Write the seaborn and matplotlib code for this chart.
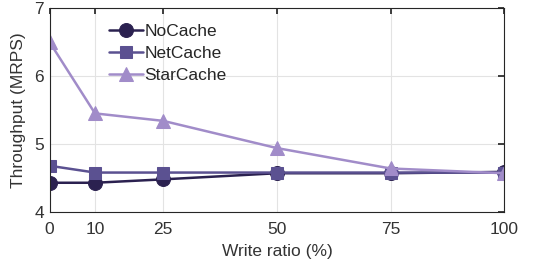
import matplotlib
matplotlib.use("Agg")
import matplotlib.pyplot as plt
import seaborn as sns
import pandas as pd

write_ratio = [0, 10, 25, 50, 75, 100]
nocache = [4.43, 4.43, 4.48, 4.57, 4.57, 4.59]
netcache = [4.68, 4.58, 4.58, 4.58, 4.58, 4.58]
starcache = [6.50, 5.45, 5.34, 4.94, 4.64, 4.57]
series_names = ["NoCache", "NetCache", "StarCache"]
colors = ["#2b2150", "#5b5191", "#a18cc9"]
markers = ["o", "s", "^"]

sns.set_theme(style="white")
plt.rcParams['font.family'] = ['Liberation Sans', 'DejaVu Sans']

df = pd.DataFrame({
    "x": write_ratio * 3,
    "y": nocache + netcache + starcache,
    "series": sum([[n] * len(write_ratio) for n in series_names], []),
})

fig, ax = plt.subplots(figsize=(5.44, 2.66), dpi=100)
fig.subplots_adjust(left=0.091, right=0.927, top=0.97, bottom=0.203)

for name, c, m in zip(series_names, colors, markers):
    sub = df[df.series == name]
    sns.lineplot(data=sub, x="x", y="y", ax=ax, color=c, marker=m,
                 markersize=10 if m != "s" else 9, linewidth=1.8,
                 markeredgecolor=c, label=name)

ax.set_xlim(0, 100)
ax.set_ylim(4, 7)
ax.set_xticks(write_ratio)
ax.set_yticks([4, 5, 6, 7])
ax.set_xlabel("Write ratio (%)", fontsize=12.5, color="#333333", labelpad=5)
ax.set_ylabel("Throughput (MRPS)", fontsize=12.5, color="#333333", labelpad=6)
ax.tick_params(axis="both", direction="in", labelsize=12.5, length=4,
               top=True, right=True, colors="#262626", labelcolor="#333333")
ax.tick_params(axis="x", pad=7)
ax.tick_params(axis="y", pad=4)
ax.grid(True, color="#e3e3e3", linewidth=0.8)
for s in ax.spines.values():
    s.set_color("#262626")
    s.set_linewidth(0.8)

leg = ax.legend(loc="upper left", bbox_to_anchor=(0.107, 0.975), frameon=False,
                fontsize=12.5, handlelength=2.0, handletextpad=0.05,
                labelspacing=0.4, borderaxespad=0.2)

fig.savefig("out.png", dpi=100)
